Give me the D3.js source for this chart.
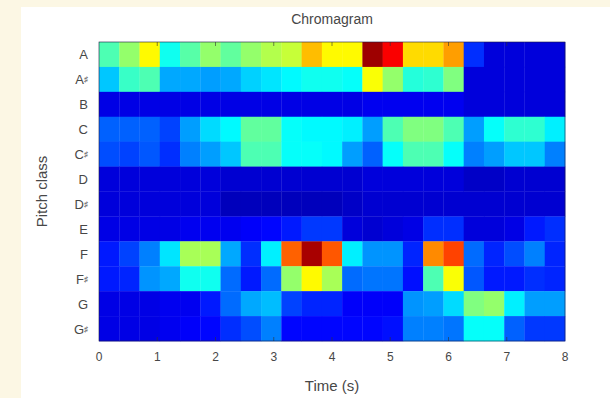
<!DOCTYPE html>
<html>
<head>
<meta charset="utf-8">
<script src="https://cdn.jsdelivr.net/npm/d3@7"></script>
<style>
  html, body { margin: 0; padding: 0; background: #fcf7e4; }
  svg { display: block; }
  text { font-family: "Liberation Sans", Arial, sans-serif; fill: #474747; }
</style>
</head>
<body>
<svg id="chart" width="610" height="398"></svg>
<script>
// pitch classes, top to bottom
const pitches = ['A', 'A♯', 'B', 'C', 'C♯', 'D', 'D♯', 'E', 'F', 'F♯', 'G', 'G♯'];
const duration = 8;
const xTicks = [0, 1, 2, 3, 4, 5, 6, 7, 8];

// chroma energy per frame (23 frames), 0..1
const chromaA  = [0.45, 0.52, 0.63, 0.39, 0.46, 0.52, 0.47, 0.52, 0.55, 0.57, 0.69, 0.63, 0.63, 0.97, 0.88, 0.66, 0.66, 0.72, 0.17, 0.09, 0.09, 0.09, 0.09];
const chromaAs = [0.32, 0.43, 0.45, 0.29, 0.29, 0.28, 0.29, 0.33, 0.35, 0.37, 0.39, 0.39, 0.38, 0.62, 0.52, 0.41, 0.42, 0.50, 0.09, 0.09, 0.09, 0.09, 0.09];
const chromaB  = [0.10, 0.10, 0.10, 0.10, 0.10, 0.10, 0.10, 0.10, 0.10, 0.10, 0.10, 0.10, 0.10, 0.11, 0.11, 0.11, 0.11, 0.11, 0.09, 0.09, 0.09, 0.09, 0.09];
const chromaC  = [0.22, 0.22, 0.22, 0.19, 0.28, 0.34, 0.37, 0.47, 0.47, 0.38, 0.37, 0.37, 0.36, 0.28, 0.45, 0.50, 0.50, 0.45, 0.28, 0.38, 0.42, 0.42, 0.36];
const chromaCs = [0.20, 0.19, 0.21, 0.17, 0.25, 0.28, 0.32, 0.45, 0.45, 0.38, 0.38, 0.37, 0.28, 0.22, 0.38, 0.45, 0.45, 0.38, 0.25, 0.28, 0.32, 0.32, 0.25];
const chromaD  = [0.09, 0.09, 0.09, 0.09, 0.09, 0.09, 0.08, 0.08, 0.08, 0.08, 0.08, 0.08, 0.08, 0.09, 0.09, 0.09, 0.09, 0.09, 0.07, 0.07, 0.08, 0.08, 0.08];
const chromaDs = [0.09, 0.09, 0.09, 0.09, 0.09, 0.09, 0.06, 0.06, 0.06, 0.06, 0.06, 0.06, 0.07, 0.08, 0.08, 0.08, 0.08, 0.08, 0.08, 0.08, 0.08, 0.08, 0.08];
const chromaE  = [0.10, 0.10, 0.10, 0.10, 0.11, 0.11, 0.11, 0.12, 0.13, 0.15, 0.18, 0.18, 0.09, 0.08, 0.09, 0.10, 0.17, 0.17, 0.09, 0.09, 0.10, 0.15, 0.17];
const chromaF  = [0.15, 0.19, 0.25, 0.35, 0.54, 0.54, 0.29, 0.17, 0.36, 0.78, 0.96, 0.79, 0.36, 0.27, 0.27, 0.16, 0.74, 0.81, 0.23, 0.16, 0.20, 0.25, 0.16];
const chromaFs = [0.15, 0.16, 0.27, 0.29, 0.39, 0.39, 0.23, 0.15, 0.23, 0.52, 0.63, 0.54, 0.23, 0.24, 0.24, 0.14, 0.45, 0.62, 0.21, 0.15, 0.15, 0.17, 0.16];
const chromaG  = [0.10, 0.10, 0.10, 0.11, 0.11, 0.15, 0.23, 0.29, 0.31, 0.19, 0.16, 0.16, 0.12, 0.12, 0.12, 0.27, 0.28, 0.34, 0.50, 0.52, 0.36, 0.28, 0.28];
const chromaGs = [0.10, 0.10, 0.10, 0.11, 0.12, 0.13, 0.17, 0.20, 0.25, 0.13, 0.13, 0.13, 0.13, 0.13, 0.14, 0.25, 0.25, 0.24, 0.38, 0.38, 0.22, 0.18, 0.18];

const chroma = [chromaA, chromaAs, chromaB, chromaC, chromaCs, chromaD, chromaDs, chromaE, chromaF, chromaFs, chromaG, chromaGs];
const nFrames = chromaA.length;

const svg = d3.select('#chart');

// white page panel on the cream background
svg.append('rect')
  .attr('x', 21).attr('y', 7)
  .attr('width', 589).attr('height', 391)
  .attr('fill', '#ffffff');

const plot = {left: 99, right: 565, top: 42, bottom: 341};

const xScale = d3.scaleLinear()
  .domain([0, duration])
  .range([plot.left, plot.right]);

const yScale = d3.scaleBand()
  .domain(pitches)
  .range([plot.top, plot.bottom]);

// matlab jet
const jet = d3.scaleLinear()
  .domain([0, 0.125, 0.375, 0.625, 0.875, 1])
  .range(['#00007f', '#0000ff', '#00ffff', '#ffff00', '#ff0000', '#7f0000'])
  .clamp(true);

const frameDur = duration / nFrames;
const cells = [];
chroma.forEach((row, i) => {
  row.forEach((v, j) => cells.push({pitch: pitches[i], frame: j, value: v}));
});

svg.append('g')
  .selectAll('rect')
  .data(cells)
  .join('rect')
  .attr('x', d => xScale(d.frame * frameDur))
  .attr('y', d => yScale(d.pitch))
  .attr('width', d => xScale((d.frame + 1) * frameDur) - xScale(d.frame * frameDur) + 0.3)
  .attr('height', yScale.bandwidth() + 0.3)
  .attr('fill', d => jet(d.value));

// axes box
svg.append('rect')
  .attr('x', plot.left).attr('y', plot.top)
  .attr('width', plot.right - plot.left).attr('height', plot.bottom - plot.top)
  .attr('fill', 'none')
  .attr('stroke', '#1a1a40')
  .attr('stroke-width', 0.6);

// inward ticks, top and bottom
const tickLen = 4;
svg.append('g')
  .selectAll('line')
  .data(xTicks.slice(1, -1))
  .join('line')
  .attr('x1', d => xScale(d)).attr('x2', d => xScale(d))
  .attr('y1', plot.top).attr('y2', plot.top + tickLen)
  .attr('stroke', '#333').attr('stroke-width', 0.6);
svg.append('g')
  .selectAll('line')
  .data(xTicks.slice(1, -1))
  .join('line')
  .attr('x1', d => xScale(d)).attr('x2', d => xScale(d))
  .attr('y1', plot.bottom).attr('y2', plot.bottom - tickLen)
  .attr('stroke', '#333').attr('stroke-width', 0.6);

// x tick labels
svg.append('g')
  .selectAll('text')
  .data(xTicks)
  .join('text')
  .attr('x', d => xScale(d))
  .attr('y', 361)
  .attr('text-anchor', 'middle')
  .attr('font-size', 12)
  .text(d => d);

// y tick labels, sharp drawn smaller
const yLabels = svg.append('g')
  .selectAll('text')
  .data(pitches)
  .join('text')
  .attr('x', 88)
  .attr('y', d => yScale(d) + yScale.bandwidth() / 2 + 5)
  .attr('text-anchor', 'end')
  .attr('font-size', 13);
yLabels.append('tspan').text(d => d[0]);
yLabels.filter(d => d.length > 1)
  .append('tspan')
  .attr('font-size', 8)
  .attr('dy', -2)
  .text(d => d.slice(1));

// title and axis labels
svg.append('text')
  .attr('x', (plot.left + plot.right) / 2)
  .attr('y', 24)
  .attr('text-anchor', 'middle')
  .attr('font-size', 14)
  .text('Chromagram');

svg.append('text')
  .attr('x', (plot.left + plot.right) / 2)
  .attr('y', 391)
  .attr('text-anchor', 'middle')
  .attr('font-size', 15)
  .text('Time (s)');

svg.append('text')
  .attr('transform', `translate(47, ${(plot.top + plot.bottom) / 2}) rotate(-90)`)
  .attr('text-anchor', 'middle')
  .attr('font-size', 15)
  .text('Pitch class');
</script>
</body>
</html>
